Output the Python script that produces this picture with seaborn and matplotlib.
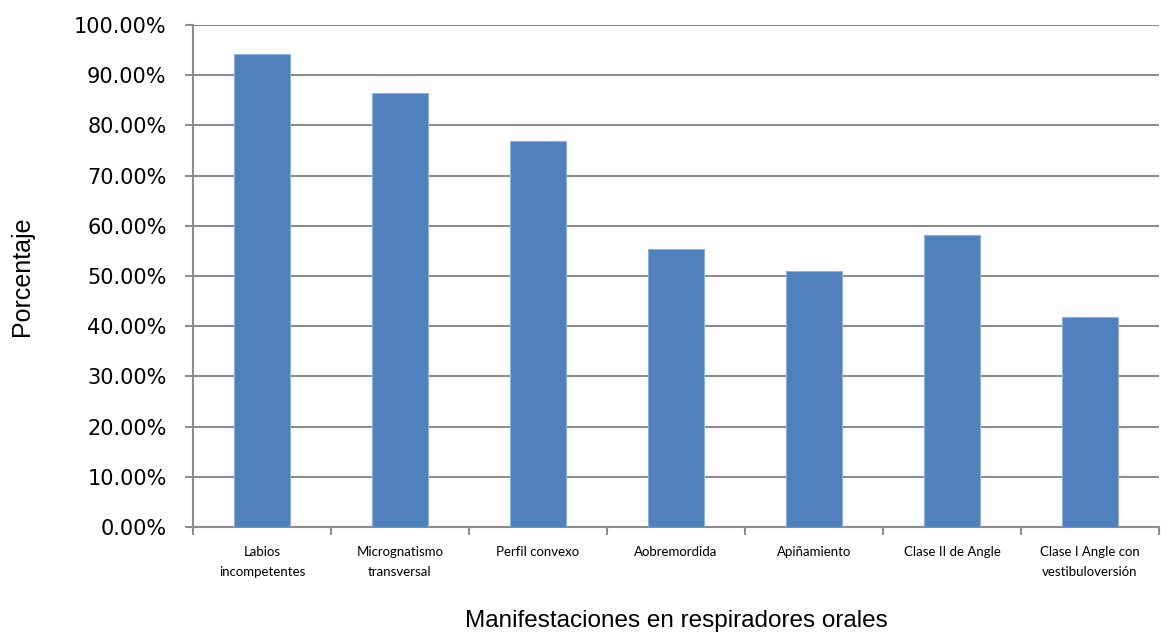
import matplotlib
matplotlib.use("Agg")
import matplotlib.pyplot as plt
import seaborn as sns
import pandas as pd
from matplotlib.ticker import FuncFormatter, MultipleLocator

categories = ["Labios\nincompetentes", "Micrognatismo\ntransversal", "Perfil convexo",
              "Aobremordida", "Apiñamiento", "Clase II de Angle",
              "Clase I Angle con\nvestibuloversión"]
values = [94.3, 86.5, 76.9, 55.3, 51.0, 58.1, 41.9]

df = pd.DataFrame({"cat": categories, "val": values})

sns.set_theme(style="white")
plt.rcParams['font.family'] = ['DejaVu Sans']

fig = plt.figure(figsize=(11.61, 6.35), dpi=100)
ax = fig.add_axes([0.1662, 0.1701, 0.8321, 0.7905])

sns.barplot(data=df, x="cat", y="val", color="#4F81BD", width=0.4,
            saturation=1, edgecolor="#8FB0D8", linewidth=0.8, ax=ax, zorder=3)

ax.set_ylim(0, 100)
ax.set_xlim(-0.5, len(categories) - 0.5)
ax.yaxis.set_major_locator(MultipleLocator(10))
ax.yaxis.set_major_formatter(FuncFormatter(lambda v, p: f"{v:.2f}%"))
ax.yaxis.grid(True, color="#8C8C8C", linewidth=1.5, zorder=0)
ax.set_axisbelow(True)

for s in ["top", "right"]:
    ax.spines[s].set_visible(False)
for s in ["left", "bottom"]:
    ax.spines[s].set_color("#8C8C8C")
    ax.spines[s].set_linewidth(1.5)

ax.tick_params(axis="y", which="major", left=True, length=6, width=1.5,
               color="#8C8C8C", labelsize=15, pad=13, labelcolor="#000000")
ax.set_xticks(range(len(categories)))
ax.set_xticklabels(categories, fontsize=9.5, linespacing=1.75, family=["Lato", "DejaVu Sans"])
ax.tick_params(axis="x", which="major", bottom=False, pad=8, labelcolor="#000000")
ax.set_xticks([i - 0.5 for i in range(len(categories) + 1)], minor=True)
ax.tick_params(axis="x", which="minor", bottom=True, length=6, width=1.5,
               color="#8C8C8C")

ax.set_xlabel("Manifestaciones en respiradores orales", fontsize=17.5,
              family=["Liberation Sans"], color="#000000")
ax.set_ylabel("Porcentaje", fontsize=18, family=["Liberation Sans"], color="#000000")
ax.xaxis.set_label_coords(0.5, -0.165)
ax.yaxis.set_label_coords(-0.165, 0.5)

fig.savefig("out.png", dpi=100)
